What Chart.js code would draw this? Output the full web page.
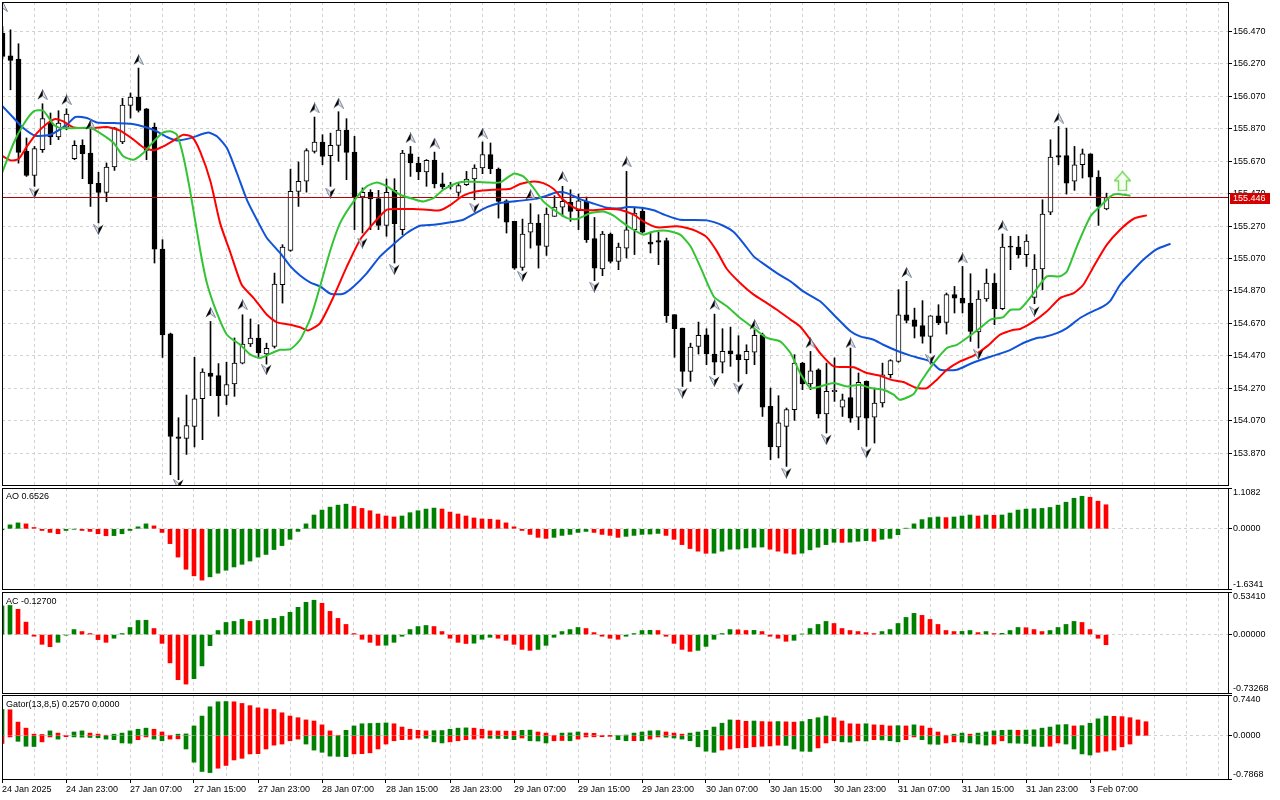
<!DOCTYPE html>
<html lang="en">
<head>
<meta charset="UTF-8">
<title>H1 chart - Alligator, Fractals, AO, AC, Gator</title>
<script src="https://cdn.jsdelivr.net/npm/chart.js"></script>
<style>
  html, body { margin: 0; padding: 0; background: #fff; }
  #wrap { position: relative; width: 1280px; height: 800px; overflow: hidden; }
  #wrap canvas { position: absolute; left: 0; }
  .ttl { position: absolute; left: 6px; font-size: 9px; line-height: 9px; color: #000; white-space: nowrap;
         font-family: 'Liberation Sans', Arial, sans-serif; }
</style>
</head>
<body>
<div id="wrap">
  <canvas id="main" width="1280" height="486" style="top:0"></canvas>
  <canvas id="ao" width="1280" height="103" style="top:487px"></canvas>
  <canvas id="ac" width="1280" height="103" style="top:591px"></canvas>
  <canvas id="gator" width="1280" height="106" style="top:694px"></canvas>
  <div class="ttl" id="aoTitle" style="top:492px"></div>
  <div class="ttl" id="acTitle" style="top:597px"></div>
  <div class="ttl" id="gatorTitle" style="top:700px"></div>
</div>
<script>
// ---- data (bar index 0 = 24 Jan 15:00, H1) ----
const candleOpen = [
  156.460, 156.320, 156.300, 155.730, 155.582, 155.741, 155.909, 155.819, 155.880, 155.685,
  155.767, 155.720, 155.533, 155.478, 155.634, 155.788, 156.014, 156.065, 155.993, 155.880,
  155.128, 154.606, 153.971, 153.961, 154.035, 154.205, 154.364, 154.348, 154.226, 154.296,
  154.425, 154.543, 154.580, 154.481, 154.528, 154.908, 155.120, 155.484, 155.546, 155.730,
  155.788, 155.704, 155.767, 155.862, 155.726, 155.449, 155.478, 155.439, 155.274, 155.490,
  155.248, 155.716, 155.659, 155.603, 155.677, 155.531, 155.515, 155.478, 155.525, 155.560,
  155.628, 155.710, 155.621, 155.426, 155.299, 155.015, 155.233, 155.289, 155.144, 155.330,
  155.387, 155.416, 155.365, 155.422, 155.192, 155.005, 155.221, 155.052, 155.134, 155.247,
  155.361, 155.171, 155.181, 155.181, 154.724, 154.641, 154.374, 154.528, 154.600, 154.481,
  154.431, 154.501, 154.477, 154.446, 154.493, 154.600, 154.158, 153.908, 154.035, 154.138,
  154.425, 154.296, 154.384, 154.111, 154.249, 154.154, 154.213, 154.092, 154.312, 154.092,
  154.179, 154.353, 154.435, 154.723, 154.692, 154.656, 154.590, 154.717, 154.676, 154.847,
  154.826, 154.795, 154.617, 154.820, 154.919, 154.761, 155.145, 155.140, 155.093, 154.830,
  155.005, 155.356, 155.704, 155.704, 155.546, 155.648, 155.716, 155.572, 155.375
];
const candleHigh = [
  156.500, 156.480, 156.394, 155.813, 155.761, 156.024, 155.967, 155.981, 155.993, 155.796,
  155.802, 155.874, 155.601, 155.659, 155.878, 156.057, 156.090, 156.244, 155.995, 155.905,
  155.186, 154.610, 154.088, 154.228, 154.461, 154.390, 154.682, 154.422, 154.431, 154.580,
  154.723, 154.697, 154.662, 154.548, 154.980, 155.155, 155.621, 155.665, 155.747, 155.942,
  155.833, 155.843, 155.975, 155.932, 155.823, 155.505, 155.494, 155.490, 155.560, 155.562,
  155.737, 155.761, 155.695, 155.680, 155.726, 155.597, 155.540, 155.540, 155.607, 155.648,
  155.788, 155.782, 155.628, 155.432, 155.299, 155.313, 155.408, 155.340, 155.381, 155.457,
  155.515, 155.494, 155.467, 155.449, 155.323, 155.237, 155.227, 155.165, 155.607, 155.381,
  155.381, 155.233, 155.233, 155.196, 154.724, 154.641, 154.548, 154.678, 154.637, 154.727,
  154.637, 154.647, 154.594, 154.538, 154.631, 154.610, 154.271, 154.224, 154.148, 154.477,
  154.430, 154.497, 154.390, 154.425, 154.457, 154.234, 154.518, 154.364, 154.315, 154.271,
  154.425, 154.446, 154.878, 154.929, 154.764, 154.810, 154.717, 154.785, 154.857, 154.898,
  155.021, 154.976, 154.872, 155.005, 154.976, 155.221, 155.207, 155.207, 155.217, 155.094,
  155.432, 155.802, 155.884, 155.874, 155.761, 155.745, 155.716, 155.611, 155.473
];
const candleLow = [
  156.300, 156.110, 155.658, 155.576, 155.515, 155.724, 155.772, 155.803, 155.864, 155.679,
  155.562, 155.391, 155.289, 155.420, 155.613, 155.778, 155.936, 155.973, 155.679, 155.042,
  154.460, 153.737, 153.706, 153.862, 153.908, 153.953, 154.224, 154.097, 154.169, 154.220,
  154.420, 154.527, 154.457, 154.419, 154.518, 154.795, 155.114, 155.391, 155.479, 155.720,
  155.648, 155.515, 155.669, 155.556, 155.248, 155.227, 155.248, 155.248, 155.207, 155.042,
  155.217, 155.576, 155.556, 155.515, 155.505, 155.498, 155.498, 155.453, 155.520, 155.432,
  155.593, 155.593, 155.319, 155.227, 155.003, 154.997, 155.134, 155.011, 155.089, 155.330,
  155.330, 155.299, 155.248, 155.169, 154.933, 154.964, 155.042, 155.001, 155.073, 155.094,
  155.227, 155.104, 155.032, 154.676, 154.461, 154.281, 154.312, 154.481, 154.415, 154.353,
  154.364, 154.405, 154.312, 154.359, 154.415, 154.096, 153.830, 153.840, 153.788, 154.072,
  154.261, 154.261, 154.086, 153.994, 154.189, 154.096, 154.060, 154.014, 153.912, 153.932,
  154.154, 154.333, 154.430, 154.672, 154.580, 154.548, 154.487, 154.662, 154.604, 154.734,
  154.734, 154.559, 154.518, 154.806, 154.662, 154.754, 155.001, 155.073, 155.021, 154.791,
  154.878, 155.340, 155.648, 155.467, 155.490, 155.566, 155.459, 155.274, 155.370
];
const candleClose = [
  156.316, 156.291, 155.724, 155.582, 155.747, 155.932, 155.819, 155.905, 155.960, 155.767,
  155.716, 155.529, 155.478, 155.634, 155.876, 156.016, 156.065, 155.983, 155.737, 155.128,
  154.598, 153.973, 153.961, 154.039, 154.205, 154.370, 154.343, 154.224, 154.292, 154.425,
  154.543, 154.580, 154.487, 154.516, 154.912, 155.140, 155.484, 155.546, 155.735, 155.788,
  155.700, 155.767, 155.862, 155.724, 155.449, 155.478, 155.437, 155.274, 155.478, 155.284,
  155.720, 155.659, 155.603, 155.675, 155.529, 155.511, 155.520, 155.519, 155.560, 155.628,
  155.710, 155.624, 155.422, 155.294, 155.011, 155.221, 155.289, 155.151, 155.344, 155.387,
  155.422, 155.360, 155.426, 155.186, 155.011, 155.221, 155.052, 155.140, 155.247, 155.350,
  155.233, 155.159, 155.171, 154.717, 154.637, 154.374, 154.524, 154.596, 154.481, 154.431,
  154.497, 154.481, 154.446, 154.497, 154.596, 154.154, 153.908, 154.056, 154.138, 154.425,
  154.296, 154.378, 154.111, 154.251, 154.257, 154.199, 154.086, 154.306, 154.086, 154.179,
  154.353, 154.440, 154.723, 154.688, 154.651, 154.590, 154.717, 154.672, 154.847, 154.826,
  154.795, 154.621, 154.820, 154.919, 154.761, 155.140, 155.140, 155.093, 155.177, 155.005,
  155.344, 155.695, 155.695, 155.535, 155.648, 155.716, 155.572, 155.391, 155.446
];
const bidPrice = 155.446;

// Alligator lines as [bar, price]; jaw shifted 8 bars, teeth 5, lips 3
const jawPoints = [
  [-0.3,156.024],[1.4,155.936],[2.6,155.874],[4.1,155.827],[6.0,155.833],[8.05,155.895],[9.1,155.942],
  [10.55,155.936],[11.8,155.909],[13.9,155.905],[16.0,155.901],[18.05,155.878],[19.3,155.854],[20.55,155.819],
  [21.8,155.798],[23.5,155.812],[24.7,155.833],[25.75,155.847],[26.8,155.823],[28.05,155.751],[29.3,155.597],
  [30.55,155.432],[31.8,155.309],[33.05,155.196],[34.7,155.104],[36.0,155.021],[37.2,154.965],[38.5,154.921],
  [39.7,154.898],[41.0,154.853],[42.6,154.853],[43.9,154.898],[45.55,154.980],[47.2,155.083],[48.9,155.159],
  [50.55,155.227],[52.2,155.272],[53.9,155.278],[56.0,155.293],[57.6,155.309],[58.9,155.344],[60.55,155.387],
  [62.2,155.412],[64.3,155.424],[66.4,155.436],[68.05,155.457],[69.3,155.478],[70.55,155.473],[72.2,155.436],
  [73.9,155.408],[75.55,155.383],[77.2,155.379],[78.05,155.387],[80.1,155.381],[81.4,155.367],[83.05,155.334],
  [84.7,155.309],[88.05,155.305],[90.1,155.272],[91.4,155.233],[92.6,155.165],[93.9,155.083],[95.1,155.038],
  [96.8,154.980],[98.5,154.929],[100.1,154.867],[102.2,154.806],[103.9,154.723],[106.0,154.621],[107.2,154.590],
  [108.9,154.569],[110.1,154.538],[111.8,154.501],[113.5,154.471],[114.7,154.455],[116.0,154.435],[117.2,154.384],
  [119.3,154.384],[121.0,154.421],[122.6,154.450],[124.3,154.477],[126.0,154.507],[127.6,154.549],[129.3,154.580],
  [130.1,154.584],[131.8,154.610],[133.05,154.641],[134.7,154.703],[136.0,154.738],[137.6,154.775],[138.5,154.810],
  [139.7,154.908],[141.0,154.980],[142.6,155.062],[144.3,155.128],[146.0,155.161]
];
const teethPoints = [
  [-0.3,155.710],[1.0,155.675],[2.0,155.683],[3.05,155.761],[4.3,155.843],[5.55,155.901],[6.6,155.930],
  [7.6,155.915],[8.9,155.878],[11.0,155.874],[13.05,155.880],[14.7,155.858],[16.4,155.802],[17.6,155.755],
  [18.9,155.737],[20.1,155.761],[21.4,155.798],[22.6,155.833],[23.7,155.819],[24.7,155.730],[26.0,155.545],
  [27.2,155.288],[28.5,155.104],[29.9,154.908],[31.4,154.826],[33.05,154.723],[34.3,154.676],[36.0,154.662],
  [37.2,154.646],[38.2,154.626],[39.7,154.672],[41.4,154.836],[43.05,155.021],[44.7,155.186],[46.4,155.288],
  [48.05,155.371],[49.7,155.375],[51.4,155.375],[53.05,155.371],[54.7,155.367],[56.0,155.401],[57.6,155.457],
  [59.3,155.484],[61.4,155.494],[63.5,155.500],[64.7,155.529],[66.4,155.545],[67.6,155.535],[68.9,155.498],
  [70.1,155.432],[71.8,155.375],[73.5,155.367],[75.55,155.375],[77.2,155.371],[78.9,155.340],[80.1,155.299],
  [81.8,155.262],[84.3,155.268],[85.55,155.258],[86.8,155.237],[88.05,155.200],[89.3,155.114],[90.55,155.005],
  [92.2,154.919],[93.9,154.847],[95.55,154.795],[96.8,154.754],[98.5,154.693],[99.7,154.651],[101.0,154.569],
  [102.2,154.487],[103.9,154.405],[106.4,154.399],[108.05,154.364],[109.7,154.347],[111.0,154.323],[112.6,154.308],
  [114.3,154.271],[115.55,154.271],[116.8,154.323],[118.05,154.384],[119.7,154.435],[121.4,154.471],[123.05,154.528],
  [124.7,154.600],[126.4,154.631],[127.2,154.635],[128.9,154.682],[130.55,154.744],[132.2,154.826],[133.9,154.857],
  [135.1,154.908],[136.4,155.021],[138.05,155.155],[139.7,155.247],[141.4,155.315],[143.05,155.336]
];
const lipsPoints = [
  [-0.3,155.566],[1.4,155.782],[2.6,155.895],[3.9,155.977],[5.1,155.981],[6.4,155.895],[7.2,155.874],
  [9.3,155.874],[11.0,155.874],[12.2,155.843],[13.9,155.782],[15.1,155.700],[16.4,155.679],[17.6,155.720],
  [18.9,155.792],[20.1,155.847],[21.0,155.854],[21.8,155.833],[22.6,155.700],[23.5,155.473],[24.7,155.124],
  [25.55,154.919],[26.8,154.734],[28.05,154.600],[29.7,154.538],[31.0,154.477],[32.2,154.456],[33.5,154.483],
  [34.7,154.507],[36.0,154.511],[37.2,154.569],[38.5,154.703],[39.7,154.898],[41.0,155.124],[42.2,155.288],
  [43.9,155.422],[45.55,155.515],[46.8,155.539],[48.05,155.515],[49.7,155.463],[51.4,155.436],[52.6,155.422],
  [53.9,155.443],[55.1,155.494],[56.8,155.535],[58.05,155.545],[60.55,155.539],[62.2,155.539],[63.9,155.593],
  [65.1,155.576],[66.4,155.504],[67.6,155.422],[68.9,155.371],[70.55,155.319],[71.8,155.313],[73.5,155.350],
  [75.1,155.360],[76.4,155.334],[77.2,155.304],[78.5,155.258],[80.1,155.217],[81.4,155.237],[83.05,155.241],
  [84.7,155.217],[86.0,155.145],[87.2,155.021],[88.9,154.836],[90.55,154.775],[92.2,154.703],[93.9,154.641],
  [95.55,154.580],[97.2,154.559],[98.5,154.487],[99.7,154.364],[101.0,154.271],[102.2,154.281],[103.9,154.302],
  [105.55,154.281],[107.2,154.292],[108.5,154.271],[110.1,154.261],[111.4,154.230],[112.2,154.199],[113.9,154.235],
  [114.7,154.302],[115.1,154.333],[116.4,154.425],[118.05,154.518],[119.3,154.538],[120.55,154.580],[122.2,154.641],
  [123.5,154.693],[125.1,154.709],[126.0,154.754],[127.2,154.758],[128.9,154.857],[130.55,154.960],[132.2,154.960],
  [133.05,154.990],[134.3,155.145],[136.0,155.330],[137.2,155.391],[138.5,155.453],[139.3,155.467],[141.0,155.457]
];

// Bill Williams fractals (glyph position)
const fractalUpBars = [0, 5, 8, 11, 17, 26, 30, 39, 42, 51, 54, 60, 66, 70, 78, 89, 94, 101, 106, 113, 120, 125, 132];
const fractalUpPrices = [156.624, 156.080, 156.049, 155.895, 156.296, 154.738, 154.785, 155.998, 156.028, 155.813, 155.782,
  155.843, 155.463, 155.576, 155.665, 154.785, 154.662, 154.549, 154.549, 154.985, 155.073, 155.272, 155.936];
const fractalDownBars = [4, 12, 22, 33, 41, 45, 49, 59, 65, 74, 85, 89, 92, 98, 103, 108, 116, 122, 129];
const fractalDownPrices = [155.473, 155.248, 153.676, 154.384, 155.473, 155.165, 155.001, 155.381, 154.960, 154.894,
  154.240, 154.312, 154.271, 153.747, 153.953, 153.871, 154.446, 154.477, 154.744];
const buyArrowBar = 140;
const buyArrowPrice = 155.546;

const aoValues = [
  -0.027, 0.107, 0.161, 0.134, 0.036, -0.045, -0.098, -0.134, -0.045, -0.009,
  -0.045, -0.071, -0.134, -0.188, -0.185, -0.134, -0.045, 0.054, 0.134, 0.080,
  -0.098, -0.402, -0.768, -1.098, -1.277, -1.393, -1.304, -1.205, -1.125, -1.036,
  -0.964, -0.875, -0.768, -0.696, -0.563, -0.455, -0.286, -0.071, 0.134, 0.375,
  0.509, 0.589, 0.643, 0.670, 0.607, 0.554, 0.491, 0.402, 0.348, 0.321,
  0.348, 0.438, 0.491, 0.536, 0.563, 0.536, 0.455, 0.402, 0.348, 0.295,
  0.268, 0.259, 0.241, 0.161, 0.054, -0.045, -0.152, -0.232, -0.259, -0.232,
  -0.179, -0.152, -0.098, -0.071, -0.098, -0.152, -0.179, -0.232, -0.205, -0.179,
  -0.152, -0.143, -0.125, -0.179, -0.286, -0.429, -0.536, -0.607, -0.665, -0.661,
  -0.607, -0.554, -0.550, -0.518, -0.500, -0.495, -0.554, -0.607, -0.661, -0.688,
  -0.661, -0.571, -0.500, -0.429, -0.366, -0.370, -0.362, -0.339, -0.321, -0.339,
  -0.286, -0.259, -0.161, 0.018, 0.134, 0.250, 0.304, 0.321, 0.304, 0.321,
  0.348, 0.375, 0.348, 0.375, 0.366, 0.375, 0.429, 0.509, 0.536, 0.545,
  0.554, 0.580, 0.643, 0.723, 0.830, 0.884, 0.857, 0.750, 0.6526
];
const acValues = [
  0.360, 0.365, 0.317, 0.156, -0.020, -0.122, -0.152, -0.097, -0.008, 0.063,
  0.038, 0.013, -0.063, -0.097, -0.046, 0.013, 0.089, 0.177, 0.180, 0.076,
  -0.110, -0.355, -0.566, -0.621, -0.553, -0.393, -0.139, 0.051, 0.152, 0.165,
  0.190, 0.165, 0.177, 0.190, 0.203, 0.228, 0.279, 0.342, 0.405, 0.431,
  0.393, 0.291, 0.203, 0.127, 0.013, -0.059, -0.097, -0.135, -0.133, -0.097,
  -0.021, 0.063, 0.101, 0.114, 0.101, 0.038, -0.046, -0.097, -0.112, -0.108,
  -0.059, -0.034, -0.046, -0.072, -0.122, -0.186, -0.198, -0.186, -0.135, -0.034,
  0.038, 0.063, 0.089, 0.076, 0.025, -0.021, -0.046, -0.059, -0.021, 0.013,
  0.051, 0.054, 0.051, -0.021, -0.110, -0.186, -0.211, -0.198, -0.148, -0.059,
  0.013, 0.063, 0.060, 0.051, 0.053, 0.038, -0.021, -0.046, -0.084, -0.072,
  0.008, 0.076, 0.127, 0.165, 0.139, 0.076, 0.051, 0.038, 0.025, 0.013,
  0.038, 0.063, 0.139, 0.215, 0.266, 0.241, 0.190, 0.127, 0.051, 0.038,
  0.040, 0.051, 0.025, 0.038, 0.013, 0.016, 0.051, 0.089, 0.086, 0.063,
  0.038, 0.051, 0.089, 0.127, 0.165, 0.152, 0.063, -0.046, -0.127
];
const gatorUpper = [
  0.480, 0.475, 0.250, 0.140, 0.030, 0.025, 0.090, 0.050, 0.010, 0.070,
  0.090, 0.050, 0.030, 0.010, 0.030, 0.050, 0.090, 0.120, 0.140, 0.120,
  0.070, 0.010, 0.030, 0.035, 0.180, 0.360, 0.530, 0.620, 0.625, 0.620,
  0.590, 0.550, 0.510, 0.490, 0.480, 0.420, 0.360, 0.330, 0.290, 0.270,
  0.200, 0.090, 0.010, 0.100, 0.180, 0.220, 0.225, 0.230, 0.235, 0.220,
  0.160, 0.120, 0.100, 0.090, 0.093, 0.096, 0.120, 0.140, 0.145, 0.140,
  0.120, 0.090, 0.088, 0.086, 0.084, 0.100, 0.104, 0.070, 0.050, 0.010,
  0.050, 0.054, 0.070, 0.050, 0.046, 0.010, 0.005, 0.010, 0.014, 0.050,
  0.070, 0.090, 0.094, 0.070, 0.050, 0.030, 0.050, 0.070, 0.100, 0.160,
  0.230, 0.290, 0.285, 0.265, 0.270, 0.260, 0.255, 0.260, 0.255, 0.250,
  0.260, 0.300, 0.330, 0.360, 0.330, 0.270, 0.220, 0.215, 0.220, 0.200,
  0.195, 0.180, 0.185, 0.180, 0.200, 0.180, 0.140, 0.070, 0.010, 0.030,
  0.050, 0.030, 0.050, 0.070, 0.090, 0.100, 0.105, 0.100, 0.105, 0.110,
  0.140, 0.160, 0.200, 0.205, 0.180, 0.185, 0.230, 0.310, 0.360, 0.355,
  0.350, 0.330, 0.290, 0.2570
];
const gatorLower = [
  -0.140, -0.020, -0.100, -0.190, -0.195, -0.110, -0.020, -0.060, -0.015, -0.020,
  -0.025, -0.030, -0.035, -0.060, -0.070, -0.130, -0.135, -0.070, -0.020, -0.060,
  -0.090, -0.060, -0.055, -0.240, -0.480, -0.650, -0.670, -0.590, -0.540, -0.440,
  -0.410, -0.330, -0.325, -0.240, -0.170, -0.150, -0.090, -0.060, -0.150, -0.260,
  -0.300, -0.370, -0.375, -0.380, -0.330, -0.325, -0.310, -0.240, -0.150, -0.090,
  -0.070, -0.065, -0.040, -0.045, -0.110, -0.130, -0.110, -0.090, -0.070, -0.060,
  -0.040, -0.045, -0.048, -0.050, -0.070, -0.040, -0.090, -0.095, -0.130, -0.090,
  -0.085, -0.090, -0.060, -0.020, -0.018, -0.015, -0.010, -0.070, -0.090, -0.088,
  -0.090, -0.060, -0.020, -0.025, -0.040, -0.060, -0.090, -0.200, -0.280, -0.300,
  -0.260, -0.240, -0.220, -0.215, -0.200, -0.190, -0.185, -0.170, -0.175, -0.240,
  -0.280, -0.285, -0.220, -0.130, -0.090, -0.110, -0.115, -0.090, -0.095, -0.070,
  -0.075, -0.090, -0.110, -0.070, -0.020, -0.070, -0.150, -0.155, -0.130, -0.110,
  -0.115, -0.130, -0.150, -0.170, -0.150, -0.090, -0.130, -0.135, -0.140, -0.190,
  -0.195, -0.190, -0.130, -0.150, -0.240, -0.330, -0.350, -0.300, -0.280, -0.260,
  -0.200, -0.150
];

// axis labels
const priceTicks = [153.87, 154.07, 154.27, 154.47, 154.67, 154.87, 155.07, 155.27, 155.47, 155.67, 155.87, 156.07, 156.27, 156.47];
const xLabelBars = [0, 8, 16, 24, 32, 40, 48, 56, 64, 72, 80, 88, 96, 104, 112, 120, 128, 136];
const xLabelTexts = ['24 Jan 2025', '24 Jan 23:00', '27 Jan 07:00', '27 Jan 15:00', '27 Jan 23:00', '28 Jan 07:00',
  '28 Jan 15:00', '28 Jan 23:00', '29 Jan 07:00', '29 Jan 15:00', '29 Jan 23:00', '30 Jan 07:00', '30 Jan 15:00',
  '30 Jan 23:00', '31 Jan 07:00', '31 Jan 15:00', '31 Jan 23:00', '3 Feb 07:00'];
const priceRange = [153.6734, 156.6514];
const aoRange = [-1.6341, 1.1082];
const acRange = [-0.73268, 0.53410];
const gatorRange = [-0.7868, 0.7440];

// ---- styling ----
const FONT = "'Liberation Sans', Arial, sans-serif";
const GRID = '#d2d2d2';
const GREEN = '#008000';
const RED = '#ff0000';
const PLOT_W = 1226;          // chart area width in px
const BAR_PX = 8;             // one bar = 8 px

Chart.defaults.font.family = FONT;
Chart.defaults.font.size = 9;
Chart.defaults.color = '#000';
Chart.defaults.animation = false;
Chart.defaults.plugins.legend.display = false;
Chart.defaults.plugins.tooltip.enabled = false;

const gridBars = [];
for (let b = 0; b <= 152; b += 4) gridBars.push(b);
const xLabelMap = new Map(xLabelBars.map((b, i) => [b, xLabelTexts[i]]));

function xAxis(min, withLabels) {
  return {
    type: 'linear', min: min, max: min + PLOT_W / BAR_PX, offset: false,
    afterBuildTicks: s => { s.ticks = gridBars.map(v => ({ value: v })); },
    afterFit: s => { s.height = withLabels ? 21 : 0; s.paddingLeft = 0; s.paddingRight = 0; },
    grid: {
      color: GRID, offset: false, drawTicks: withLabels, tickLength: 4, tickBorderDash: [],
      tickColor: c => (c.tick && xLabelMap.has(c.tick.value)) ? '#000' : 'rgba(0,0,0,0)'
    },
    border: { display: false, dash: [3, 3] },
    ticks: {
      display: withLabels, autoSkip: false, maxRotation: 0, minRotation: 0, align: 'start', padding: 1,
      callback: v => xLabelMap.get(v) || ''
    }
  };
}

function panelY(range, decimals) {
  const [min, max] = range;
  return {
    position: 'right', min: min, max: max,
    afterBuildTicks: s => { s.ticks = [min, 0, max].map(v => ({ value: v })); },
    afterFit: s => { s.width = 52; s.paddingTop = 0; s.paddingBottom = 0; },
    grid: { color: GRID, tickColor: '#000', tickLength: 4, tickBorderDash: [] },
    border: { display: false, dash: [3, 3] },
    ticks: {
      padding: 1, autoSkip: false, font: { size: 9, lineHeight: 1 },
      // edge labels sit inside the panel, like the terminal draws them
      callback: (v, i) => i === 0 ? [v.toFixed(decimals), ''] : i === 2 ? ['', v.toFixed(decimals)] : v.toFixed(decimals)
    }
  };
}

const framePlugin = {
  id: 'frame',
  afterDraw(chart) {
    const { ctx, chartArea: a } = chart;
    ctx.save();
    ctx.strokeStyle = '#000';
    ctx.lineWidth = 1;
    ctx.strokeRect(a.left + 0.5, a.top + 0.5, a.right - a.left, a.bottom - a.top);
    ctx.restore();
  }
};

const bidTagPlugin = {
  id: 'bidTag',
  afterDraw(chart) {
    const { ctx, chartArea: a } = chart;
    const y = Math.round(chart.scales.y.getPixelForValue(bidPrice));
    ctx.save();
    ctx.fillStyle = '#d20000';
    ctx.fillRect(a.right + 2, y - 5, 40, 11);
    ctx.fillStyle = '#fff';
    ctx.font = '9px ' + FONT;
    ctx.textBaseline = 'middle';
    ctx.fillText(bidPrice.toFixed(3), a.right + 5, y + 0.5);
    ctx.restore();
  }
};

// fractal arrow glyphs: half dark, half light
function fractalGlyph(up) {
  const c = document.createElement('canvas');
  c.width = 11; c.height = 11;
  const g = c.getContext('2d');
  const tipY = up ? 0.5 : 10.5, baseY = up ? 10.5 : 0.5, notchY = up ? 7 : 4;
  g.beginPath();
  g.moveTo(5.5, tipY); g.lineTo(up ? 10.5 : 0.5, baseY); g.lineTo(5.5, notchY); g.closePath();
  g.fillStyle = '#dfe3ea'; g.fill();
  g.strokeStyle = '#7d879c'; g.lineWidth = 1; g.stroke();
  g.beginPath();
  g.moveTo(5.5, tipY); g.lineTo(up ? 0.5 : 10.5, baseY); g.lineTo(5.5, notchY); g.closePath();
  g.fillStyle = '#000'; g.fill();
  return c;
}

function buyArrowGlyph() {
  const c = document.createElement('canvas');
  c.width = 17; c.height = 20;
  const g = c.getContext('2d');
  g.beginPath();
  g.moveTo(8.5, 0.5); g.lineTo(16.5, 9.5); g.lineTo(12.5, 9.5); g.lineTo(12.5, 19.5);
  g.lineTo(4.5, 19.5); g.lineTo(4.5, 9.5); g.lineTo(0.5, 9.5); g.closePath();
  g.fillStyle = '#f4fff0'; g.fill();
  g.strokeStyle = '#78d85a'; g.lineWidth = 1.5; g.stroke();
  return c;
}

function risingColors(values, firstColor, useAbs) {
  return ctx => {
    const i = ctx.dataIndex;
    if (i === 0) return firstColor;
    const cur = useAbs ? Math.abs(values[i]) : values[i];
    const prev = useAbs ? Math.abs(values[i - 1]) : values[i - 1];
    return cur > prev ? GREEN : RED;
  };
}

const toXY = pts => pts.map(p => ({ x: p[0], y: p[1] }));
const histo = arr => arr.map((v, i) => ({ x: i, y: v }));

// ---- main price chart ----
const bodyData = candleOpen.map((o, i) => ({ x: i, y: [Math.min(o, candleClose[i]), Math.max(o, candleClose[i])] }));
const wickData = candleLow.map((l, i) => ({ x: i, y: [l, candleHigh[i]] }));

new Chart(document.getElementById('main'), {
  type: 'bar',
  data: {
    datasets: [
      { type: 'line', data: fractalUpBars.map((b, i) => ({ x: b, y: fractalUpPrices[i] })), showLine: false,
        pointStyle: fractalGlyph(true), order: 0 },
      { type: 'line', data: fractalDownBars.map((b, i) => ({ x: b, y: fractalDownPrices[i] })), showLine: false,
        pointStyle: fractalGlyph(false), order: 0 },
      { type: 'line', data: [{ x: buyArrowBar, y: buyArrowPrice }], showLine: false,
        pointStyle: buyArrowGlyph(), order: 0 },
      { type: 'line', data: toXY(lipsPoints), borderColor: '#33c433', borderWidth: 2, pointRadius: 0, tension: 0.2, order: 1 },
      { type: 'line', data: toXY(teethPoints), borderColor: '#ff0000', borderWidth: 2, pointRadius: 0, tension: 0.2, order: 2 },
      { type: 'line', data: toXY(jawPoints), borderColor: '#1052d8', borderWidth: 2, pointRadius: 0, tension: 0.2, order: 3 },
      { type: 'line', data: [{ x: -5, y: bidPrice }, { x: 200, y: bidPrice }], borderColor: '#b40000',
        borderWidth: 1, pointRadius: 0, order: 4 },
      { data: bodyData, grouped: false, barThickness: 5, minBarLength: 1, borderWidth: 1, borderColor: '#000',
        borderSkipped: false, order: 5,
        backgroundColor: c => candleClose[c.dataIndex] >= candleOpen[c.dataIndex] ? '#fff' : '#000' },
      { data: wickData, grouped: false, barThickness: 1, minBarLength: 1, borderWidth: 0, backgroundColor: '#000', order: 6 }
    ]
  },
  options: {
    responsive: false,
    layout: { autoPadding: false, padding: { top: 2, left: 2, right: 0, bottom: 1 } },
    scales: {
      x: xAxis(-0.0625, false),
      y: {
        position: 'right', min: priceRange[0], max: priceRange[1],
        afterBuildTicks: s => { s.ticks = priceTicks.map(v => ({ value: v })); },
        afterFit: s => { s.width = 52; s.paddingTop = 0; s.paddingBottom = 0; },
        grid: { color: GRID, tickColor: '#000', tickLength: 4, tickBorderDash: [] },
        border: { display: false, dash: [3, 3] },
        ticks: { padding: 1, autoSkip: false, callback: v => v.toFixed(3) }
      }
    }
  },
  plugins: [framePlugin, bidTagPlugin]
});

// ---- indicator panels ----
function panel(id, datasets, range, decimals, withLabels) {
  new Chart(document.getElementById(id), {
    type: 'bar',
    data: { datasets: datasets },
    options: {
      responsive: false,
      layout: { autoPadding: false, padding: { top: 1, left: 2, right: 0, bottom: withLabels ? 0 : 1 } },
      scales: { x: xAxis(0, withLabels), y: panelY(range, decimals) }
    },
    plugins: [framePlugin]
  });
}

panel('ao', [
  { data: histo(aoValues), grouped: false, barThickness: 4, backgroundColor: risingColors(aoValues, GREEN, false) }
], aoRange, 4, false);

panel('ac', [
  { data: histo(acValues), grouped: false, barThickness: 4, backgroundColor: risingColors(acValues, GREEN, false) }
], acRange, 5, false);

panel('gator', [
  { data: histo(gatorUpper), grouped: false, barThickness: 4, backgroundColor: risingColors(gatorUpper, GREEN, false) },
  { data: histo(gatorLower), grouped: false, barThickness: 4, backgroundColor: risingColors(gatorLower, RED, true) }
], gatorRange, 4, true);

document.getElementById('aoTitle').textContent = 'AO ' + aoValues[aoValues.length - 1].toFixed(4);
document.getElementById('acTitle').textContent = 'AC ' + acValues[acValues.length - 1].toFixed(5);
document.getElementById('gatorTitle').textContent = 'Gator(13,8,5) ' + gatorUpper[gatorUpper.length - 1].toFixed(4) +
  ' ' + Math.abs(gatorLower[gatorUpper.length - 1] || 0).toFixed(4);
</script>
</body>
</html>
